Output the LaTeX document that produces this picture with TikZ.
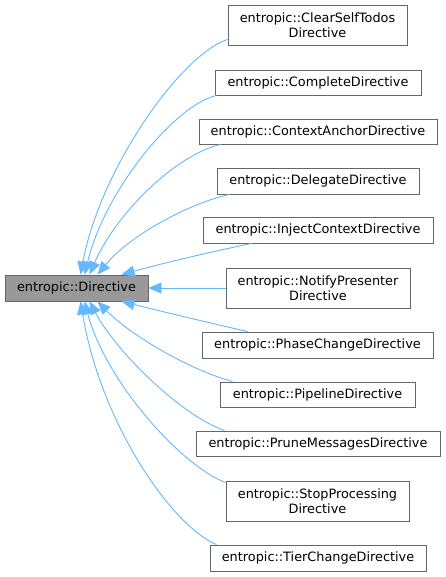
\documentclass[tikz,border=0pt]{standalone}
\usepackage{fontspec}
\setmainfont{DejaVu Sans}
\usetikzlibrary{arrows.meta}
\definecolor{edgeblue}{HTML}{63B8FF}
\definecolor{boxborder}{HTML}{666666}
\definecolor{basefill}{HTML}{999999}
\begin{document}
\begin{tikzpicture}[x=1pt,y=-1pt,
  cls/.style={draw=boxborder,fill=white,line width=0.9pt,inner sep=0pt,
    align=center,font=\fontsize{12.85pt}{15pt}\selectfont,text=black},
  base/.style={cls,fill=basefill},
  inh/.style={draw=edgeblue,line width=0.9pt,-{Triangle[length=13pt,width=11pt,fill=edgeblue]}}]
\useasboundingbox (0,0) rectangle (445,577);
\node[base,minimum width=143pt,minimum height=26pt] (dir) at (76.5,288) {entropic::Directive};
\node[cls,minimum width=179pt,minimum height=40pt] (cst) at (317.5,25) {entropic::ClearSelfTodos\\Directive};
\node[cls,minimum width=206pt,minimum height=25pt] (cmp) at (318,82.5) {entropic::CompleteDirective};
\node[cls,minimum width=238pt,minimum height=25pt] (ctx) at (318,131.5) {entropic::ContextAnchorDirective};
\node[cls,minimum width=202pt,minimum height=26pt] (del) at (318,181) {entropic::DelegateDirective};
\node[cls,minimum width=230pt,minimum height=26pt] (inj) at (318,230) {entropic::InjectContextDirective};
\node[cls,minimum width=184pt,minimum height=40pt] (nty) at (318,288) {entropic::NotifyPresenter\\Directive};
\node[cls,minimum width=231pt,minimum height=26pt] (pha) at (317.5,345) {entropic::PhaseChangeDirective};
\node[cls,minimum width=195pt,minimum height=25pt] (pip) at (317.5,394.5) {entropic::PipelineDirective};
\node[cls,minimum width=244pt,minimum height=25pt] (pru) at (318,443.5) {entropic::PruneMessagesDirective};
\node[cls,minimum width=183pt,minimum height=40pt] (stp) at (317.5,501) {entropic::StopProcessing\\Directive};
\node[cls,minimum width=216pt,minimum height=26pt] (tie) at (318,558) {entropic::TierChangeDirective};
% inheritance connectors
\draw[inh] ([yshift=6pt]cst.south west) .. controls (180,55) and (100,170) .. ([xshift=76pt]dir.north west);
\draw[inh] ([xshift=2pt]cmp.south west) .. controls (175,105) and (105,190) .. ([xshift=80pt]dir.north west);
\draw[inh] ([xshift=22pt]ctx.south west) .. controls (175,155) and (115,215) .. ([xshift=85pt]dir.north west);
\draw[inh] ([xshift=13pt]del.south west) .. controls (190,203) and (130,235) .. ([xshift=93pt]dir.north west);
\draw[inh] ([xshift=49pt]inj.south west) .. controls (210,252) and (160,264) .. ([xshift=117pt]dir.north west);
\draw[inh] (nty.west) -- (dir.east);
\draw[inh] ([xshift=46pt]pha.north west) .. controls (210,323) and (160,311) .. ([xshift=117pt]dir.south west);
\draw[inh] ([xshift=13pt]pip.north west) .. controls (190,370) and (130,335) .. ([xshift=93pt]dir.south west);
\draw[inh] ([xshift=29pt]pru.north west) .. controls (180,415) and (115,350) .. ([xshift=85pt]dir.south west);
\draw[inh] ([yshift=-2pt]stp.north west) .. controls (180,465) and (105,380) .. ([xshift=80pt]dir.south west);
\draw[inh] ([xshift=7pt]tie.north west) .. controls (170,525) and (100,420) .. ([xshift=76pt]dir.south west);
\end{tikzpicture}
\end{document}
